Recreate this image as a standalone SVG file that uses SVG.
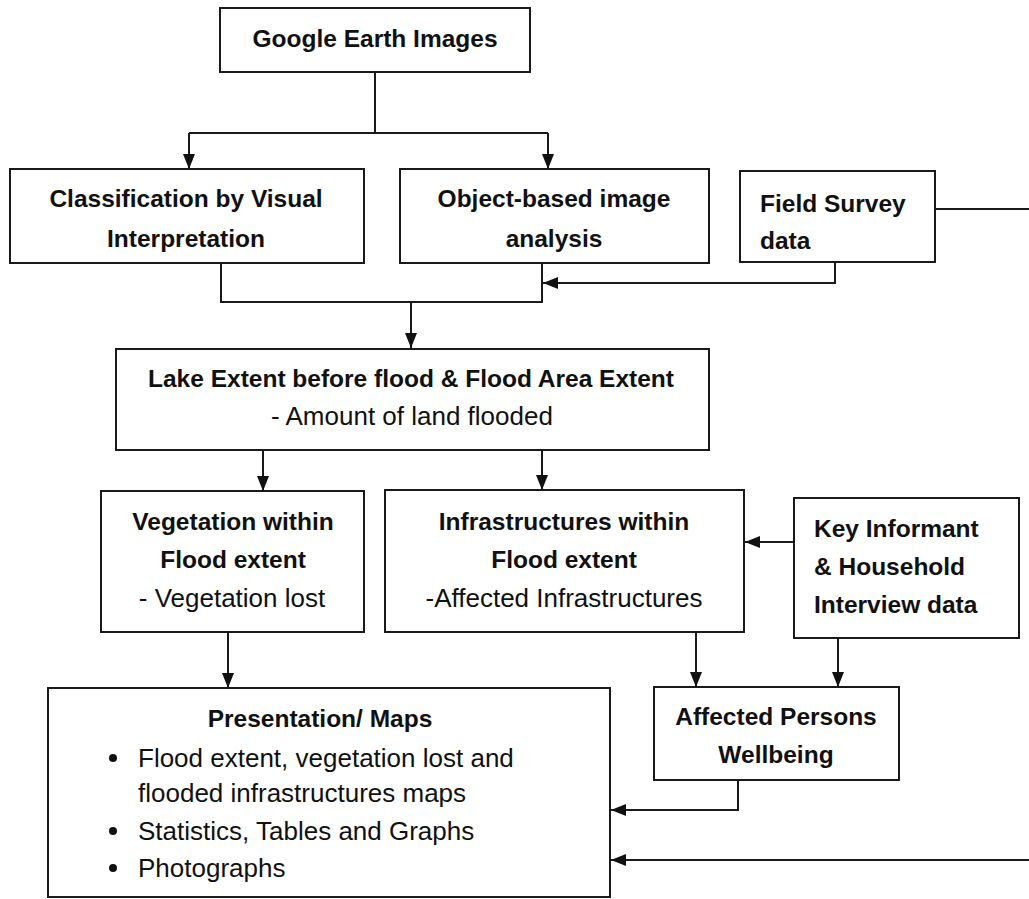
<svg xmlns="http://www.w3.org/2000/svg" width="1029" height="899" viewBox="0 0 1029 899">
<style>
.box{fill:#fff;stroke:#1a1a1a;stroke-width:2}
.b{font-family:"Liberation Sans",Arial,sans-serif;font-weight:bold;font-size:24.5px;fill:#111}
.r{font-family:"Liberation Sans",Arial,sans-serif;font-size:26px;fill:#111}
.c{text-anchor:middle}
.ln{fill:none;stroke:#1a1a1a;stroke-width:2}
</style>
<defs>
<marker id="ah" viewBox="0 0 15 12" refX="15" refY="6" markerWidth="15" markerHeight="12" markerUnits="userSpaceOnUse" orient="auto">
<path d="M0,0 L15,6 L0,12 Z" fill="#111"/>
</marker>
</defs>
<rect width="1029" height="899" fill="#fff"/>
<g id="connectors">
<path class="ln" d="M375,72 V133 M189,133 H548"/>
<path class="ln" d="M189,133 V169" marker-end="url(#ah)"/>
<path class="ln" d="M548,133 V169" marker-end="url(#ah)"/>
<path class="ln" d="M935,209 H1029"/>
<path class="ln" d="M835,262 V283 H543" marker-end="url(#ah)"/>
<path class="ln" d="M221,263 V302 H542 V263"/>
<path class="ln" d="M411,302 V348" marker-end="url(#ah)"/>
<path class="ln" d="M263,450 V491" marker-end="url(#ah)"/>
<path class="ln" d="M542,450 V490" marker-end="url(#ah)"/>
<path class="ln" d="M794,542 H745" marker-end="url(#ah)"/>
<path class="ln" d="M228,632 V688" marker-end="url(#ah)"/>
<path class="ln" d="M696,632 V687" marker-end="url(#ah)"/>
<path class="ln" d="M838,638 V687" marker-end="url(#ah)"/>
<path class="ln" d="M738,780 V810 H611" marker-end="url(#ah)"/>
<path class="ln" d="M1029,860 H611" marker-end="url(#ah)"/>
</g>
<g id="google">
<rect class="box" x="220" y="8" width="310" height="64"/>
<text class="b c" x="375" y="47">Google Earth Images</text>
</g>
<g id="classification">
<rect class="box" x="10" y="169" width="354" height="94"/>
<text class="b c" x="186" y="207">Classification by Visual</text>
<text class="b c" x="186" y="247">Interpretation</text>
</g>
<g id="object">
<rect class="box" x="400" y="169" width="309" height="94"/>
<text class="b c" x="554" y="207">Object-based image</text>
<text class="b c" x="554" y="247">analysis</text>
</g>
<g id="field">
<rect class="box" x="740" y="171" width="195" height="91"/>
<text class="b" x="760" y="212">Field Survey</text>
<text class="b" x="760" y="249">data</text>
</g>
<g id="lake">
<rect class="box" x="116" y="349" width="593" height="101"/>
<text class="b c" x="411" y="387">Lake Extent before flood &amp; Flood Area Extent</text>
<text class="r c" x="412" y="425">- Amount of land flooded</text>
</g>
<g id="vegetation">
<rect class="box" x="101" y="491" width="263" height="141"/>
<text class="b c" x="233" y="530">Vegetation within</text>
<text class="b c" x="233" y="568">Flood extent</text>
<text class="r c" x="232" y="607">- Vegetation lost</text>
</g>
<g id="infrastructure">
<rect class="box" x="385" y="490" width="359" height="142"/>
<text class="b c" x="564" y="530">Infrastructures within</text>
<text class="b c" x="564" y="568">Flood extent</text>
<text class="r c" x="564" y="607">-Affected Infrastructures</text>
</g>
<g id="keyinformant">
<rect class="box" x="794" y="498" width="225" height="140"/>
<text class="b" x="814" y="537">Key Informant</text>
<text class="b" x="814" y="575">&amp; Household</text>
<text class="b" x="814" y="613">Interview data</text>
</g>
<g id="presentation">
<rect class="box" x="48" y="688" width="562" height="209"/>
<text class="b c" x="320" y="727">Presentation/ Maps</text>
<circle cx="113" cy="758" r="4" fill="#111"/>
<text class="r" x="138" y="767">Flood extent, vegetation lost and</text>
<text class="r" x="138" y="802">flooded infrastructures maps</text>
<circle cx="113" cy="831" r="4" fill="#111"/>
<text class="r" x="138" y="840">Statistics, Tables and Graphs</text>
<circle cx="113" cy="868" r="4" fill="#111"/>
<text class="r" x="138" y="877">Photographs</text>
</g>
<g id="affected">
<rect class="box" x="654" y="687" width="245" height="93"/>
<text class="b c" x="776" y="725">Affected Persons</text>
<text class="b c" x="776" y="763">Wellbeing</text>
</g>
</svg>
